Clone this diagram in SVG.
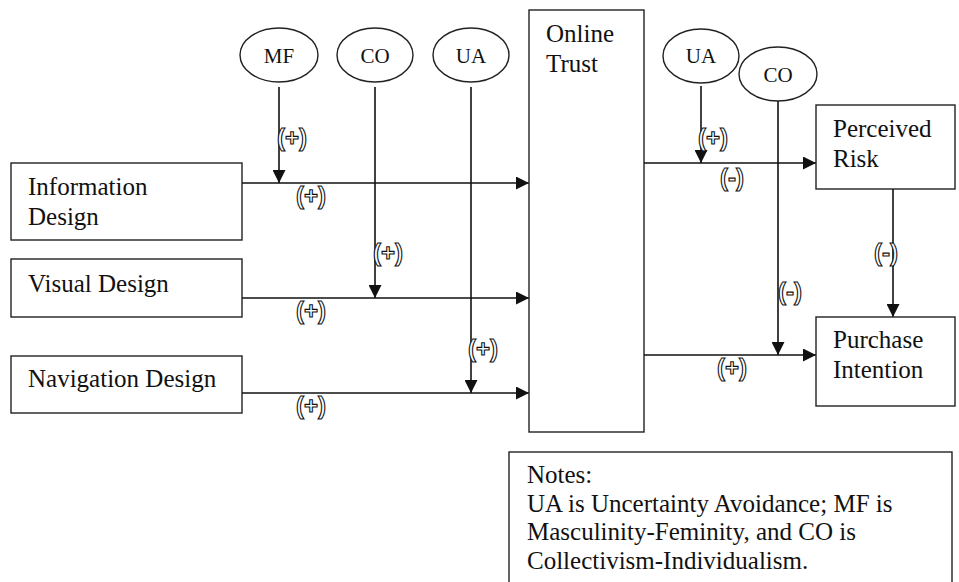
<svg xmlns="http://www.w3.org/2000/svg" width="959" height="582" viewBox="0 0 959 582">
<style>
  .box { fill: #fff; stroke: #222; stroke-width: 1.4; }
  .ov { fill: #fff; stroke: #222; stroke-width: 1.4; }
  .t { font-family: 'Liberation Serif', 'Times New Roman', serif; font-size: 25px; fill: #111; }
  .ot { font-family: 'Liberation Serif', 'Times New Roman', serif; font-size: 21px; fill: #111; text-anchor: middle; }
  .ln { stroke: #111; stroke-width: 1.6; fill: none; }
  .sg { font-family: 'Liberation Sans', Arial, sans-serif; font-size: 24px; font-weight: bold; fill: #fff; stroke: #111; stroke-width: 1.1; text-anchor: middle; dominant-baseline: central; }
</style>
<defs>
  <marker id="ah" viewBox="0 0 12 12" refX="12" refY="6" markerWidth="13" markerHeight="13" markerUnits="userSpaceOnUse" orient="auto">
    <path d="M0,0 L12,6 L0,12 Z" fill="#111"/>
  </marker>
</defs>

<g id="connectors">
  <line class="ln" x1="242" y1="183" x2="529" y2="183" marker-end="url(#ah)"/>
  <line class="ln" x1="242" y1="298" x2="529" y2="298" marker-end="url(#ah)"/>
  <line class="ln" x1="242" y1="393" x2="529" y2="393" marker-end="url(#ah)"/>
  <line class="ln" x1="279" y1="87" x2="279" y2="183" marker-end="url(#ah)"/>
  <line class="ln" x1="375" y1="87" x2="375" y2="298" marker-end="url(#ah)"/>
  <line class="ln" x1="471" y1="87" x2="471" y2="393" marker-end="url(#ah)"/>
  <line class="ln" x1="644" y1="163" x2="816" y2="163" marker-end="url(#ah)"/>
  <line class="ln" x1="644" y1="355" x2="816" y2="355" marker-end="url(#ah)"/>
  <line class="ln" x1="701" y1="86" x2="701" y2="163" marker-end="url(#ah)"/>
  <line class="ln" x1="778" y1="101" x2="778" y2="355" marker-end="url(#ah)"/>
  <line class="ln" x1="893" y1="182" x2="893" y2="317" marker-end="url(#ah)"/>
  <text class="sg" x="292" y="137">(+)</text>
  <text class="sg" x="311" y="195">(+)</text>
  <text class="sg" x="388" y="252">(+)</text>
  <text class="sg" x="311" y="310">(+)</text>
  <text class="sg" x="483" y="348">(+)</text>
  <text class="sg" x="311" y="405">(+)</text>
  <text class="sg" x="713" y="137">(+)</text>
  <text class="sg" x="732" y="177">(-)</text>
  <text class="sg" x="790" y="291">(-)</text>
  <text class="sg" x="886" y="252">(-)</text>
  <text class="sg" x="732" y="367">(+)</text>
</g>

<g id="info"><rect class="box" x="11" y="163" width="231" height="77"/><text class="t" x="28" y="195">Information</text><text class="t" x="28" y="225">Design</text></g>
<g id="visual"><rect class="box" x="11" y="259" width="231" height="58"/><text class="t" x="28" y="292">Visual Design</text></g>
<g id="navigation"><rect class="box" x="11" y="356" width="231" height="57"/><text class="t" x="28" y="387">Navigation Design</text></g>
<g id="trust"><rect class="box" x="529" y="10" width="115" height="422"/><text class="t" x="546" y="42">Online</text><text class="t" x="546" y="72">Trust</text></g>
<g id="risk"><rect class="box" x="816" y="105" width="139" height="84"/><text class="t" x="833" y="137">Perceived</text><text class="t" x="833" y="167">Risk</text></g>
<g id="purchase"><rect class="box" x="816" y="317" width="139" height="89"/><text class="t" x="833" y="348">Purchase</text><text class="t" x="833" y="378">Intention</text></g>

<g id="mf"><ellipse class="ov" cx="279" cy="55" rx="39" ry="27"/><text class="ot" x="279" y="63">MF</text></g>
<g id="co1"><ellipse class="ov" cx="375" cy="55" rx="38" ry="27"/><text class="ot" x="375" y="63">CO</text></g>
<g id="ua1"><ellipse class="ov" cx="471" cy="55" rx="38" ry="27"/><text class="ot" x="471" y="63">UA</text></g>
<g id="ua2"><ellipse class="ov" cx="701" cy="56" rx="38" ry="27"/><text class="ot" x="701" y="63">UA</text></g>
<g id="co2"><ellipse class="ov" cx="778" cy="74" rx="39" ry="27"/><text class="ot" x="778" y="82">CO</text></g>

<g id="notes"><rect class="box" x="509" y="452" width="443" height="140"/>
  <text class="t" x="527" y="483">Notes:</text>
  <text class="t" x="527" y="512">UA is Uncertainty Avoidance; MF is</text>
  <text class="t" x="527" y="540">Masculinity-Feminity, and CO is</text>
  <text class="t" x="527" y="569">Collectivism-Individualism.</text>
</g>
</svg>
